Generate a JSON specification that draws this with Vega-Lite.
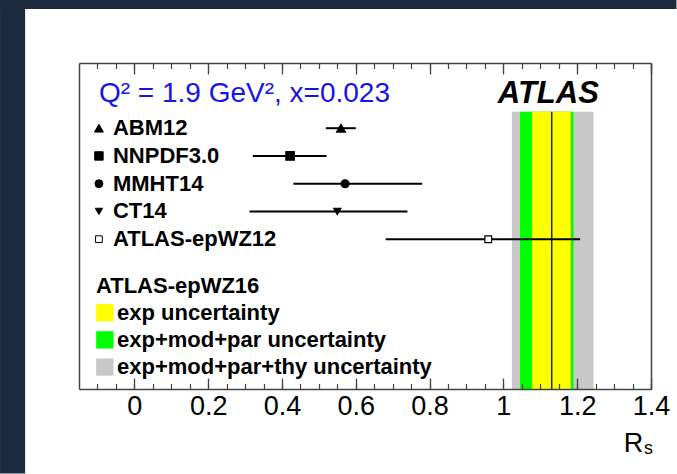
{
  "$schema": "https://vega.github.io/schema/vega-lite/v6.json",
  "width": 572,
  "height": 326,
  "autosize": "none",
  "padding": {"left": 79, "top": 63, "right": 26, "bottom": 85},
  "background": "#ffffff",
  "config": {"view": {"stroke": null}, "font": "Liberation Sans"},
  "resolve": {"axis": {"x": "independent", "y": "independent"}},
  "datasets": {
    "pdfs": [
      {"pdf": "ABM12", "row": 1, "rs": 0.560, "lo": 0.519, "hi": 0.600},
      {"pdf": "NNPDF3.0", "row": 2, "rs": 0.422, "lo": 0.321, "hi": 0.521},
      {"pdf": "MMHT14", "row": 3, "rs": 0.571, "lo": 0.431, "hi": 0.780},
      {"pdf": "CT14", "row": 4, "rs": 0.550, "lo": 0.312, "hi": 0.740},
      {"pdf": "ATLAS-epWZ12", "row": 5, "rs": 0.959, "lo": 0.681, "hi": 1.208}
    ],
    "bands": [
      {"band": "exp+mod+par+thy uncertainty", "lrow": 9.61, "lo": 1.023, "hi": 1.244},
      {"band": "exp+mod+par uncertainty", "lrow": 8.63, "lo": 1.045, "hi": 1.190},
      {"band": "exp uncertainty", "lrow": 7.65, "lo": 1.078, "hi": 1.183}
    ],
    "central": [{"fit": "ATLAS-epWZ16", "rs": 1.131}],
    "one": [{}]
  },
  "layer": [
    {
      "data": {"name": "one"},
      "mark": {"type": "rect", "color": "#1b2a3e", "clip": false},
      "encoding": {
        "x": {"datum": -0.364, "type": "quantitative", "scale": {"domain": [-0.15, 1.4], "nice": false, "zero": false}, "axis": null},
        "x2": {"datum": -0.296},
        "y": {"datum": -3.62, "type": "quantitative", "scale": {"domain": [10.4, -1.35], "nice": false, "zero": false}, "axis": null},
        "y2": {"datum": 13.45}
      }
    },
    {
      "data": {"name": "one"},
      "mark": {"type": "rect", "color": "#1b2a3e", "clip": false},
      "encoding": {
        "x": {"datum": -0.364, "type": "quantitative", "scale": {"domain": [-0.15, 1.4], "nice": false, "zero": false}, "axis": null},
        "x2": {"datum": 1.469},
        "y": {"datum": -3.62, "type": "quantitative", "scale": {"domain": [10.4, -1.35], "nice": false, "zero": false}, "axis": null},
        "y2": {"datum": -3.3}
      }
    },
    {
      "data": {"name": "bands"},
      "mark": {"type": "rect", "clip": false},
      "encoding": {
        "x": {"field": "lo", "type": "quantitative", "scale": {"domain": [-0.15, 1.4], "nice": false, "zero": false},
          "axis": {"orient": "bottom", "values": [0, 0.2, 0.4, 0.6, 0.8, 1, 1.2, 1.4], "format": "~g", "tickSize": -11, "tickColor": "#444", "tickWidth": 1.3, "domain": true, "domainColor": "#444", "domainWidth": 1.5, "labelFont": "Liberation Sans", "labelFontSize": 27, "labelColor": "#000", "labelPadding": 15, "labelFlush": false, "labelOverlap": false, "grid": false, "title": null, "zindex": 1}},
        "x2": {"field": "hi"},
        "y": {"datum": 0.405, "type": "quantitative", "scale": {"domain": [10.4, -1.35], "nice": false, "zero": false},
          "axis": {"orient": "left", "domain": true, "domainColor": "#444", "domainWidth": 1.5, "ticks": false, "labels": false, "grid": false, "title": null, "zindex": 1}},
        "y2": {"datum": 10.4},
        "color": {"field": "band", "type": "nominal", "scale": {"domain": ["exp uncertainty", "exp+mod+par uncertainty", "exp+mod+par+thy uncertainty"], "range": ["#ffff00", "#00ff00", "#c8c8c8"]}, "legend": null}
      }
    },
    {
      "data": {"name": "central"},
      "mark": {"type": "rule", "color": "#22229a", "strokeWidth": 1.5, "clip": false},
      "encoding": {
        "x": {"field": "rs", "type": "quantitative", "scale": {"domain": [-0.15, 1.4], "nice": false, "zero": false},
          "axis": {"orient": "top", "values": [0, 0.2, 0.4, 0.6, 0.8, 1, 1.2, 1.4], "tickSize": -11, "tickColor": "#444", "tickWidth": 1.3, "domain": true, "domainColor": "#444", "domainWidth": 1.5, "labels": false, "grid": false, "title": null, "zindex": 1}},
        "y": {"datum": 0.405, "type": "quantitative", "scale": {"domain": [10.4, -1.35], "nice": false, "zero": false},
          "axis": {"orient": "right", "domain": true, "domainColor": "#444", "domainWidth": 1.5, "ticks": false, "labels": false, "grid": false, "title": null, "zindex": 1}},
        "y2": {"datum": 10.4}
      }
    },
    {
      "data": {"name": "pdfs"},
      "mark": {"type": "rule", "color": "#000000", "strokeWidth": 2, "clip": false},
      "encoding": {
        "x": {"field": "lo", "type": "quantitative", "scale": {"domain": [-0.15, 1.4], "nice": false, "zero": false},
          "axis": {"orient": "bottom", "values": [-0.1, -0.05, 0, 0.05, 0.1, 0.15, 0.2, 0.25, 0.3, 0.35, 0.4, 0.45, 0.5, 0.55, 0.6, 0.65, 0.7, 0.75, 0.8, 0.85, 0.9, 0.95, 1, 1.05, 1.1, 1.15, 1.2, 1.25, 1.3, 1.35, 1.4], "tickSize": -5.5, "tickColor": "#444", "tickWidth": 1.2, "domain": false, "labels": false, "grid": false, "title": null, "zindex": 1}},
        "x2": {"field": "hi"},
        "y": {"field": "row", "type": "quantitative", "scale": {"domain": [10.4, -1.35], "nice": false, "zero": false}, "axis": null}
      }
    },
    {
      "data": {"name": "pdfs"},
      "mark": {"type": "point", "filled": true, "opacity": 1, "stroke": "#000000", "strokeWidth": 1.2, "clip": false},
      "encoding": {
        "x": {"field": "rs", "type": "quantitative", "scale": {"domain": [-0.15, 1.4], "nice": false, "zero": false},
          "axis": {"orient": "top", "values": [-0.1, -0.05, 0, 0.05, 0.1, 0.15, 0.2, 0.25, 0.3, 0.35, 0.4, 0.45, 0.5, 0.55, 0.6, 0.65, 0.7, 0.75, 0.8, 0.85, 0.9, 0.95, 1, 1.05, 1.1, 1.15, 1.2, 1.25, 1.3, 1.35, 1.4], "tickSize": -5.5, "tickColor": "#444", "tickWidth": 1.2, "domain": false, "labels": false, "grid": false, "title": null, "zindex": 1}},
        "y": {"field": "row", "type": "quantitative", "scale": {"domain": [10.4, -1.35], "nice": false, "zero": false}, "axis": null},
        "shape": {"field": "pdf", "type": "nominal", "scale": {"domain": ["ABM12", "NNPDF3.0", "MMHT14", "CT14", "ATLAS-epWZ12"], "range": ["triangle-up", "square", "circle", "triangle-down", "square"]}, "legend": null},
        "fill": {"field": "pdf", "type": "nominal", "scale": {"domain": ["ABM12", "NNPDF3.0", "MMHT14", "CT14", "ATLAS-epWZ12"], "range": ["#000000", "#000000", "#000000", "#000000", "#ffffff"]}, "legend": null},
        "size": {"field": "pdf", "type": "nominal", "scale": {"domain": ["ABM12", "NNPDF3.0", "MMHT14", "CT14", "ATLAS-epWZ12"], "range": [80, 45, 50, 70, 45]}, "legend": null}
      }
    },
    {
      "data": {"name": "pdfs"},
      "mark": {"type": "point", "filled": true, "opacity": 1, "stroke": "#000000", "strokeWidth": 1, "clip": false},
      "encoding": {
        "x": {"datum": -0.096, "type": "quantitative", "scale": {"domain": [-0.15, 1.4], "nice": false, "zero": false}, "axis": null},
        "y": {"field": "row", "type": "quantitative", "scale": {"domain": [10.4, -1.35], "nice": false, "zero": false}, "axis": null},
        "shape": {"field": "pdf", "type": "nominal", "scale": {"domain": ["ABM12", "NNPDF3.0", "MMHT14", "CT14", "ATLAS-epWZ12"], "range": ["triangle-up", "square", "circle", "triangle-down", "square"]}, "legend": null},
        "fill": {"field": "pdf", "type": "nominal", "scale": {"domain": ["ABM12", "NNPDF3.0", "MMHT14", "CT14", "ATLAS-epWZ12"], "range": ["#000000", "#000000", "#000000", "#000000", "#ffffff"]}, "legend": null},
        "size": {"field": "pdf", "type": "nominal", "scale": {"domain": ["ABM12", "NNPDF3.0", "MMHT14", "CT14", "ATLAS-epWZ12"], "range": [55, 35, 35, 55, 35]}, "legend": null}
      }
    },
    {
      "data": {"name": "pdfs"},
      "mark": {"type": "text", "align": "left", "baseline": "middle", "font": "Liberation Sans", "fontWeight": "bold", "fontSize": 22, "color": "#000000", "clip": false},
      "encoding": {
        "x": {"datum": -0.058, "type": "quantitative", "scale": {"domain": [-0.15, 1.4], "nice": false, "zero": false}, "axis": null},
        "y": {"field": "row", "type": "quantitative", "scale": {"domain": [10.4, -1.35], "nice": false, "zero": false}, "axis": null},
        "text": {"field": "pdf"}
      }
    },
    {
      "data": {"name": "bands"},
      "mark": {"type": "square", "size": 300, "opacity": 1, "clip": false},
      "encoding": {
        "x": {"datum": -0.08, "type": "quantitative", "scale": {"domain": [-0.15, 1.4], "nice": false, "zero": false}, "axis": null},
        "y": {"field": "lrow", "type": "quantitative", "scale": {"domain": [10.4, -1.35], "nice": false, "zero": false}, "axis": null},
        "color": {"field": "band", "type": "nominal", "scale": {"domain": ["exp uncertainty", "exp+mod+par uncertainty", "exp+mod+par+thy uncertainty"], "range": ["#ffff00", "#00ff00", "#c8c8c8"]}, "legend": null}
      }
    },
    {
      "data": {"name": "bands"},
      "mark": {"type": "text", "align": "left", "baseline": "middle", "font": "Liberation Sans", "fontWeight": "bold", "fontSize": 22, "color": "#000000", "clip": false},
      "encoding": {
        "x": {"datum": -0.047, "type": "quantitative", "scale": {"domain": [-0.15, 1.4], "nice": false, "zero": false}, "axis": null},
        "y": {"field": "lrow", "type": "quantitative", "scale": {"domain": [10.4, -1.35], "nice": false, "zero": false}, "axis": null},
        "text": {"field": "band"}
      }
    },
    {
      "data": {"name": "central"},
      "mark": {"type": "text", "align": "left", "baseline": "middle", "font": "Liberation Sans", "fontWeight": "bold", "fontSize": 22, "color": "#000000", "clip": false},
      "encoding": {
        "x": {"datum": -0.104, "type": "quantitative", "scale": {"domain": [-0.15, 1.4], "nice": false, "zero": false}, "axis": null},
        "y": {"datum": 6.69, "type": "quantitative", "scale": {"domain": [10.4, -1.35], "nice": false, "zero": false}, "axis": null},
        "text": {"field": "fit"}
      }
    },
    {
      "data": {"name": "one"},
      "mark": {"type": "text", "text": "Q² = 1.9 GeV², x=0.023", "align": "left", "baseline": "alphabetic", "font": "Liberation Sans", "fontSize": 28, "color": "#1414e6", "clip": false},
      "encoding": {
        "x": {"datum": -0.096, "type": "quantitative", "scale": {"domain": [-0.15, 1.4], "nice": false, "zero": false}, "axis": null},
        "y": {"datum": 0.056, "type": "quantitative", "scale": {"domain": [10.4, -1.35], "nice": false, "zero": false}, "axis": null}
      }
    },
    {
      "data": {"name": "one"},
      "mark": {"type": "text", "text": "ATLAS", "align": "left", "baseline": "alphabetic", "font": "Liberation Sans", "fontWeight": "bold", "fontStyle": "italic", "fontSize": 31, "color": "#000000", "clip": false},
      "encoding": {
        "x": {"datum": 0.985, "type": "quantitative", "scale": {"domain": [-0.15, 1.4], "nice": false, "zero": false}, "axis": null},
        "y": {"datum": 0.09, "type": "quantitative", "scale": {"domain": [10.4, -1.35], "nice": false, "zero": false}, "axis": null}
      }
    },
    {
      "data": {"name": "one"},
      "mark": {"type": "text", "text": "R", "align": "right", "baseline": "alphabetic", "font": "Liberation Sans", "fontSize": 27, "color": "#000000", "clip": false},
      "encoding": {
        "x": {"datum": 1.379, "type": "quantitative", "scale": {"domain": [-0.15, 1.4], "nice": false, "zero": false}, "axis": null},
        "y": {"datum": 12.67, "type": "quantitative", "scale": {"domain": [10.4, -1.35], "nice": false, "zero": false}, "axis": null}
      }
    },
    {
      "data": {"name": "one"},
      "mark": {"type": "text", "text": "s", "align": "left", "baseline": "alphabetic", "font": "Liberation Sans", "fontSize": 18, "color": "#000000", "clip": false},
      "encoding": {
        "x": {"datum": 1.381, "type": "quantitative", "scale": {"domain": [-0.15, 1.4], "nice": false, "zero": false}, "axis": null},
        "y": {"datum": 12.75, "type": "quantitative", "scale": {"domain": [10.4, -1.35], "nice": false, "zero": false}, "axis": null}
      }
    }
  ]
}
